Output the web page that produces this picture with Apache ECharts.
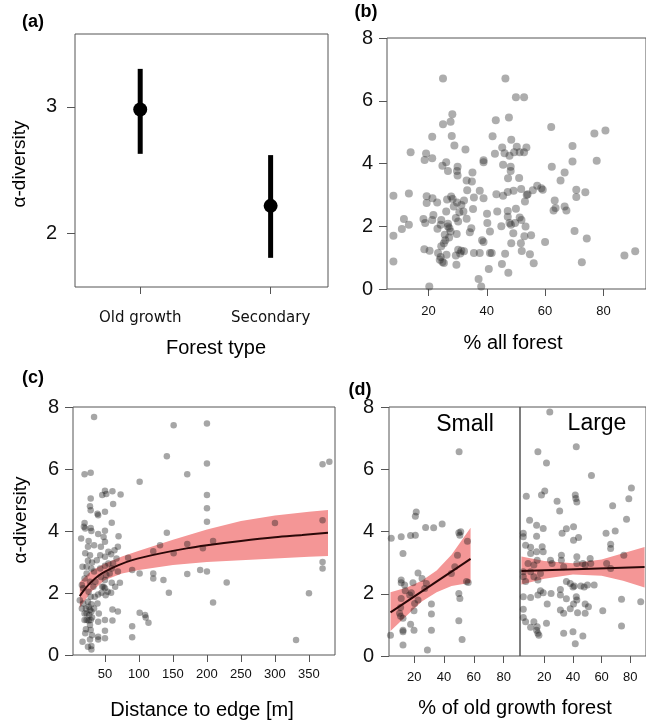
<!DOCTYPE html>
<html>
<head>
<meta charset="utf-8">
<script src="https://cdn.jsdelivr.net/npm/echarts@6.0.0/dist/echarts.min.js"></script>
<style>
html, body { margin: 0; padding: 0; background: #fff; }
#main { width: 646px; height: 721px; }
</style>
</head>
<body>
<div id="main"></div>
<script>
// (a) alpha-diversity by forest type, mean and interval
const forestTypes = ['Old growth', 'Secondary'];
const alphaMean = [2.98, 2.22];
const alphaLow = [2.63, 1.81];
const alphaHigh = [3.30, 2.62];

// (b) [% all forest, alpha-diversity]
const allForest = [
  [25.0,6.71],[46.4,6.71],[50.0,6.11],[52.8,6.11],[28.2,5.57],[27.6,5.33],[25.0,5.25],[43.1,5.38],[47.6,5.47],[62.1,5.16],[76.9,4.96],[80.7,5.05],
  [21.3,4.85],[28.0,4.88],[42.0,4.87],[48.4,4.76],[69.4,4.56],[13.9,4.36],[19.2,4.32],[28.9,4.57],[32.7,4.45],[18.7,4.11],[21.3,4.17],[42.8,4.31],[45.3,4.51],
  [46.1,4.33],[47.8,4.25],[49.4,4.36],[50.3,4.53],[51.3,4.36],[52.8,4.36],[53.6,4.51],
  [26.1,4.04],[24.8,3.93],[26.7,3.76],[30.0,3.90],[29.8,3.76],[30.0,3.62],[38.9,4.04],[38.9,4.10],[45.6,3.96],[48.2,3.90],[48.2,3.76],[69.4,4.06],[77.7,4.09],[62.3,3.90],
  [35.1,3.71],[33.1,3.46],[34.9,3.43],[47.3,3.53],[51.1,3.54],[66.7,3.71],[65.3,3.46],[57.3,3.29],[58.7,3.21],[59.2,3.16],
  [33.3,3.15],[37.6,3.13],[43.3,3.02],[45.6,2.97],[47.2,3.09],[49.2,3.13],[51.8,3.19],[54.0,3.02],[55.8,3.15],
  [8.0,2.97],[13.3,3.04],[19.4,2.96],[21.4,2.89],[23.0,2.76],[19.4,2.74],[26.4,2.85],[27.8,2.95],[28.3,2.87],[32.2,2.82],[31.3,2.68],[29.8,2.76],[28.7,2.63],[35.6,2.92],[38.9,2.89],[53.1,2.79],[53.7,3.00],[63.3,2.82],[70.7,3.16],[70.7,2.93],[73.8,3.08],
  [62.9,2.50],[63.6,2.58],[66.7,2.63],[67.3,2.50],[50.0,2.56],[47.2,2.49],[47.2,2.30],[43.6,2.47],[40.1,2.40],[35.3,2.55],[32.0,2.47],[30.6,2.45],[26.1,2.47],
  [21.7,2.36],[18.3,2.23],[18.9,2.10],[21.3,2.20],[24.4,2.20],[24.2,2.05],[26.7,2.08],[27.2,1.94],[26.7,1.99],[29.4,2.26],[33.1,2.24],[30.2,2.15],[27.6,1.83],
  [11.6,2.23],[10.9,1.91],[13.3,2.05],[8.0,1.70],[23.1,1.92],[34.7,1.94],[34.2,1.81],[40.2,2.10],[41.1,1.83],
  [45.0,2.00],[47.8,2.10],[48.3,2.05],[49.7,2.10],[51.3,2.28],[51.9,2.20],[53.3,1.99],[49.1,1.78],[48.4,1.46],[51.7,1.46],[52.9,1.68],[55.2,1.71],[60.0,1.50],[70.1,1.85],[74.3,1.61],
  [29.7,1.75],[27.1,1.64],[25.3,1.46],[25.8,1.55],[38.4,1.55],[38.9,1.50],[25.6,1.73],[24.4,1.36],
  [18.6,1.27],[20.4,1.22],[23.3,1.15],[24.2,1.02],[24.8,0.86],[23.9,0.93],[25.3,0.83],[26.2,1.09],[29.4,1.07],[30.2,1.25],[31.3,1.22],[32.2,1.20],[30.9,1.13],
  [35.6,1.15],[37.6,1.15],[41.1,1.15],[41.7,1.15],[46.3,1.12],[52.0,1.21],[54.8,1.11],
  [8.0,0.88],[29.6,0.77],[40.7,0.64],[45.2,0.80],[47.4,0.52],[56.1,0.82],[72.6,0.85],[87.2,1.07],[90.9,1.20],[37.2,0.32],[38.1,0.08],[20.3,0.08]
];

// (c) [distance to edge, alpha-diversity]
const edgeDist = [
  [34,7.68],[151,7.41],[200,7.47],[141,6.41],[20,5.83],[29,5.88],[101,5.59],[171,5.83],[200,6.18],
  [50,5.30],[46,5.16],[52,5.19],[61,5.28],[73,5.18],
  [29,5.05],[28,4.80],[29,4.67],[40,4.51],[39,4.56],[50,4.62],[62,4.87],[60,4.27],
  [20,4.26],[19,4.14],[21,4.08],[29,4.10],[30,4.00],
  [40,3.90],[48,3.81],[50,4.01],[50,3.65],
  [15,3.76],[26,3.68],[34,3.54],[25,3.49],
  [70,3.83],[69,3.49],[64,3.38],
  [21,3.28],[28,3.22],[25,3.04],[31,2.98],[17,2.85],[23,2.85],[30,2.79],[34,2.69],[23,2.63],[20,2.47],[28,2.36],
  [50,3.17],[55,3.33],[59,3.25],[62,2.95],[50,2.88],[60,2.79],[69,2.69],[72,2.33],[60,2.33],[50,2.42],[48,2.20],[50,2.15],[54,2.04],[45,2.01],[59,2.01],[46,2.20],[40,1.95],
  [84,3.14],[90,2.74],[101,2.63],[121,2.63],[121,2.47],[121,3.35],[131,3.54],[141,3.94],[151,3.28],[136,2.42],[144,2.01],[171,3.58],[171,2.61],[190,2.74],[200,2.69],[200,5.16],[200,4.73],[200,4.30],
  [16,1.50],[22,1.50],[26,1.56],[28,1.45],[30,1.40],[23,1.13],[20,1.13],[26,1.11],[29,1.13],[22,0.83],[29,0.81],[17,0.43],[28,0.50],[30,0.29],[30,0.18],[25,0.27],
  [39,1.66],[41,1.34],[40,1.07],[50,1.13],[50,0.78],[50,0.54],[40,0.59],[40,0.50],[61,1.47],[69,1.40],[61,1.11],[51,1.93],
  [90,0.93],[90,0.57],[101,1.36],[109,1.29],[110,1.21],[114,1.04],
  [194,3.44],[209,3.68],[229,2.34],[209,1.69],[300,4.26],[370,4.35],[370,3.00],[370,2.79],[370,6.15],[380,6.23],[350,1.99],[331,0.48],
  [26,2.04],[29,1.88],[25,1.72],[30,1.64],[27,1.29],[31,1.21],[23,1.34],[28,0.97],[21,0.70],[31,0.64],[18,1.66],[20,1.34],[33,2.20],[35,1.88],[34,1.50],[36,2.36],[43,2.79],[44,2.52],[38,3.06],[43,3.22],[44,3.49],
  [52,2.58],[57,2.63],[55,2.95],[65,2.20],[67,3.11],
  [16,2.26],[18,2.15],[13,1.77]
];
const edgeFit = [[13,1.90],[20,2.12],[30,2.36],[40,2.55],[50,2.69],[70,2.90],[90,3.06],[130,3.27],[170,3.44],[200,3.54],[250,3.68],[300,3.80],[340,3.87],[378,3.94]];
// [distance, lower, upper]
const edgeBand = [[13,1.52,2.35],[16,1.62,2.42],[30,2.05,2.72],[50,2.42,2.95],[75,2.63,3.18],[100,2.74,3.36],[150,2.90,3.72],[200,3.00,4.05],[250,3.06,4.32],[300,3.11,4.50],[350,3.17,4.62],[378,3.19,4.68]];

// (d) [% old growth forest, alpha-diversity], small and large fragments
const smallPts = [
  [50.1,6.56],[21.3,4.63],[20.7,4.49],[4.5,3.78],[11.2,3.83],[17.5,3.87],[20.7,3.88],[12.4,3.29],[27.6,4.13],[33.0,4.12],[38.7,4.24],[49.9,3.96],[51.2,3.99],[50.6,3.88],[55.7,3.69],[49.0,3.24],[47.2,2.87],[44.9,2.65],[55.1,2.39],[56.2,2.36],
  [22.5,2.67],[25.2,2.49],[28.1,2.33],[19.1,2.35],[11.2,2.44],[11.2,2.35],[18.0,2.03],[16.9,1.96],[11.2,1.85],[10.1,1.37],[10.8,1.28],[22.5,1.80],[20.2,1.69],[19.8,1.45],[31.5,1.67],[31.5,1.35],[31.5,0.83],
  [17.5,1.02],[19.8,0.83],[12.4,1.21],[12.4,0.83],[12.4,0.78],[12.4,0.35],[4.0,0.67],[28.8,0.19],[49.9,2.01],[50.6,1.85],[49.9,1.13],[52.1,0.53],[10.8,1.56],[13.9,2.10],[13.5,2.28],[27.0,2.17]
];
const smallFit = [[4,1.40],[57.8,3.12]];
const smallBand = [[4,0.80,2.05],[15,1.30,2.20],[25,1.75,2.42],[35,2.05,2.75],[45,2.25,3.25],[57.8,2.35,4.12]];

const largePts = [
  [23.8,7.84],[15.5,6.56],[21.5,6.20],[42.3,6.72],[52.9,5.80],[7.4,5.13],[18.0,5.17],[20.3,5.30],[28.9,4.97],[30.7,4.66],[41.6,5.17],[42.0,5.06],[42.7,4.95],[67.7,4.83],[80.8,5.40],[79.0,5.05],[77.4,4.39],
  [9.7,4.36],[14.6,4.20],[19.2,4.10],[35.4,4.09],[40.4,4.15],[32.4,3.94],[40.4,3.72],[43.9,3.81],[5.3,3.94],[5.3,3.83],[6.9,3.56],[10.4,3.49],[14.6,3.85],
  [10.4,3.29],[14.6,3.35],[18.5,3.51],[19.2,3.35],[63.1,3.94],[69.5,4.02],[66.3,3.59],[66.3,3.45],
  [8.6,2.97],[12.7,2.92],[15.0,3.08],[10.4,2.71],[24.3,3.08],[25.4,2.97],[31.9,3.24],[31.9,3.08],[33.5,2.87],[42.7,3.19],[42.7,2.97],[46.9,2.97],[48.5,2.92],[52.0,3.13],[52.4,2.97],[63.5,2.97],[66.3,2.81],[75.5,3.24],
  [5.3,2.71],[5.3,2.55],[6.9,2.39],[15.5,2.44],[17.3,2.65],[12.7,2.55],[35.4,2.39],[38.1,2.33],[40.0,2.22],
  [5.3,1.90],[10.4,1.88],[15.5,1.96],[17.3,2.10],[19.2,2.03],[31.2,2.14],[40.9,2.25],[45.5,2.25],[47.8,2.22],[50.1,2.28],[54.8,2.28],
  [24.7,2.01],[31.2,1.96],[35.4,1.84],[42.3,1.90],[42.7,1.80],
  [5.3,1.50],[5.3,1.24],[6.9,1.10],[10.4,0.92],[14.6,0.83],[15.5,0.73],[16.2,0.67],[15.0,0.94],
  [22.0,1.67],[31.2,1.48],[33.5,1.37],[38.1,1.52],[40.4,1.67],[43.2,1.39],[48.5,1.67],[48.5,1.37],[50.8,1.58],
  [60.8,1.45],[73.9,1.82],[73.9,0.96],[87.3,1.74],[33.5,0.73],[40.0,0.78],[46.9,0.64],[41.6,0.39],[21.5,1.05],[12.7,1.10]
];
const largeFit = [[4,2.73],[90,2.86]];
const largeBand = [[4,2.30,3.20],[20,2.48,3.05],[40,2.62,2.98],[60,2.58,3.10],[75,2.42,3.30],[90,2.20,3.50]];

const divTicks = [0, 2, 4, 6, 8];
const pctTicks = [20, 40, 60, 80];
const edgeTicks = [50, 100, 150, 200, 250, 300, 350];

const sansFont = 'Liberation Sans';
const tickFont = 'DejaVu Sans';
const boxColor = '#555';
const bandColor = '#f49696';
const fitColor = '#2a0808';

function xAxis(grid, min, max, ticks, font, size, margin, fmt) {
  return {
    type: 'value', gridIndex: grid, min: min, max: max,
    axisLine: { show: false },
    axisTick: { show: true, length: 7, customValues: ticks, lineStyle: { color: boxColor } },
    axisLabel: { show: true, customValues: ticks, margin: margin, fontFamily: font, fontSize: size, color: '#111', formatter: fmt },
    splitLine: { show: false }
  };
}

function yAxis(grid, min, max, ticks, margin, showLabels) {
  return {
    type: 'value', gridIndex: grid, min: min, max: max,
    axisLine: { show: false },
    axisTick: { show: showLabels, length: 8, customValues: ticks, lineStyle: { color: boxColor } },
    axisLabel: { show: showLabels, customValues: ticks, margin: margin, fontFamily: sansFont, fontSize: 20, color: '#111' },
    splitLine: { show: false }
  };
}

function bandSeries(axis, band) {
  return {
    type: 'custom', xAxisIndex: axis, yAxisIndex: axis, silent: true, z: 1,
    data: band,
    encode: { x: 0, y: [1, 2] },
    renderItem: function (params, api) {
      if (params.dataIndex !== 0) return null;
      const top = band.map(r => api.coord([r[0], r[2]]));
      const bottom = band.slice().reverse().map(r => api.coord([r[0], r[1]]));
      return { type: 'polygon', shape: { points: top.concat(bottom) }, style: { fill: bandColor } };
    }
  };
}

function dots(axis, data, size, color) {
  return {
    type: 'scatter', xAxisIndex: axis, yAxisIndex: axis, z: 2,
    data: data, symbolSize: size,
    itemStyle: { color: color, opacity: 1 }
  };
}

function fitLine(axis, data) {
  return {
    type: 'line', xAxisIndex: axis, yAxisIndex: axis, z: 3,
    data: data, showSymbol: false, smooth: 0.3,
    lineStyle: { color: fitColor, width: 2 }
  };
}

function text(str, x, y, size, bold, rotate) {
  return {
    type: 'text', x: x, y: y, rotation: rotate ? Math.PI / 2 : 0,
    style: {
      text: str, fill: '#000',
      font: (bold ? 'bold ' : '') + size + 'px "' + sansFont + '"',
      textAlign: 'center', textVerticalAlign: 'middle'
    }
  };
}

const gridBox = { show: true, borderColor: boxColor, borderWidth: 1, backgroundColor: 'transparent' };

const chart = echarts.init(document.getElementById('main'));
chart.setOption({
  animation: false,
  backgroundColor: '#fff',
  grid: [
    Object.assign({ left: 75, top: 34, width: 253, height: 253 }, gridBox),
    Object.assign({ left: 387, top: 38, width: 265, height: 251 }, gridBox),
    Object.assign({ left: 73, top: 407, width: 262, height: 248 }, gridBox),
    Object.assign({ left: 389, top: 407, width: 131, height: 249 }, gridBox),
    Object.assign({ left: 520, top: 407, width: 131, height: 249 }, gridBox)
  ],
  xAxis: [
    xAxis(0, 0.5, 2.44, [1, 2], tickFont, 15, 24, v => forestTypes[v - 1]),
    xAxis(1, 5.8, 94.6, pctTicks, sansFont, 13, 16),
    xAxis(2, 3, 388.3, edgeTicks, sansFont, 13, 13),
    xAxis(3, 3, 91, pctTicks, sansFont, 13, 15),
    xAxis(4, 3, 91, pctTicks, sansFont, 13, 15)
  ],
  yAxis: [
    yAxis(0, 1.58, 3.575, [2, 3], 18, true),
    yAxis(1, 0, 8, divTicks, 14, true),
    yAxis(2, 0, 8, divTicks, 14, true),
    yAxis(3, 0, 8, divTicks, 15, true),
    yAxis(4, 0, 8, divTicks, 15, false)
  ],
  series: [
    {
      type: 'custom', xAxisIndex: 0, yAxisIndex: 0,
      data: forestTypes.map((t, i) => [i + 1, alphaLow[i], alphaHigh[i]]),
      encode: { x: 0, y: [1, 2] },
      renderItem: function (params, api) {
        const a = api.coord([api.value(0), api.value(1)]);
        const b = api.coord([api.value(0), api.value(2)]);
        return { type: 'line', shape: { x1: a[0], y1: a[1], x2: b[0], y2: b[1] }, style: { stroke: '#000', lineWidth: 5 } };
      }
    },
    {
      type: 'scatter', xAxisIndex: 0, yAxisIndex: 0, z: 3,
      data: forestTypes.map((t, i) => [i + 1, alphaMean[i]]),
      symbolSize: 14, itemStyle: { color: '#000', opacity: 1 }
    },
    dots(1, allForest, 8, 'rgba(40,40,40,0.38)'),
    bandSeries(2, edgeBand),
    dots(2, edgeDist, 6.5, 'rgba(20,20,20,0.38)'),
    fitLine(2, edgeFit),
    bandSeries(3, smallBand),
    dots(3, smallPts, 7, 'rgba(20,20,20,0.38)'),
    fitLine(3, smallFit),
    bandSeries(4, largeBand),
    dots(4, largePts, 7, 'rgba(20,20,20,0.38)'),
    fitLine(4, largeFit)
  ],
  graphic: [
    text('(a)', 33, 22, 18, true),
    text('(b)', 366, 12, 18, true),
    text('(c)', 33, 378, 18, true),
    text('(d)', 360, 390, 18, true),
    text('α-diversity', 20, 164, 19, false, true),
    text('α-diversity', 21, 520, 19, false, true),
    text('Forest type', 216, 348, 20),
    text('% all forest', 513, 343, 20),
    text('Distance to edge [m]', 202, 710, 20),
    text('% of old growth forest', 515, 708, 20),
    text('Small', 465, 425, 23),
    text('Large', 597, 424, 23)
  ]
});
</script>
</body>
</html>
